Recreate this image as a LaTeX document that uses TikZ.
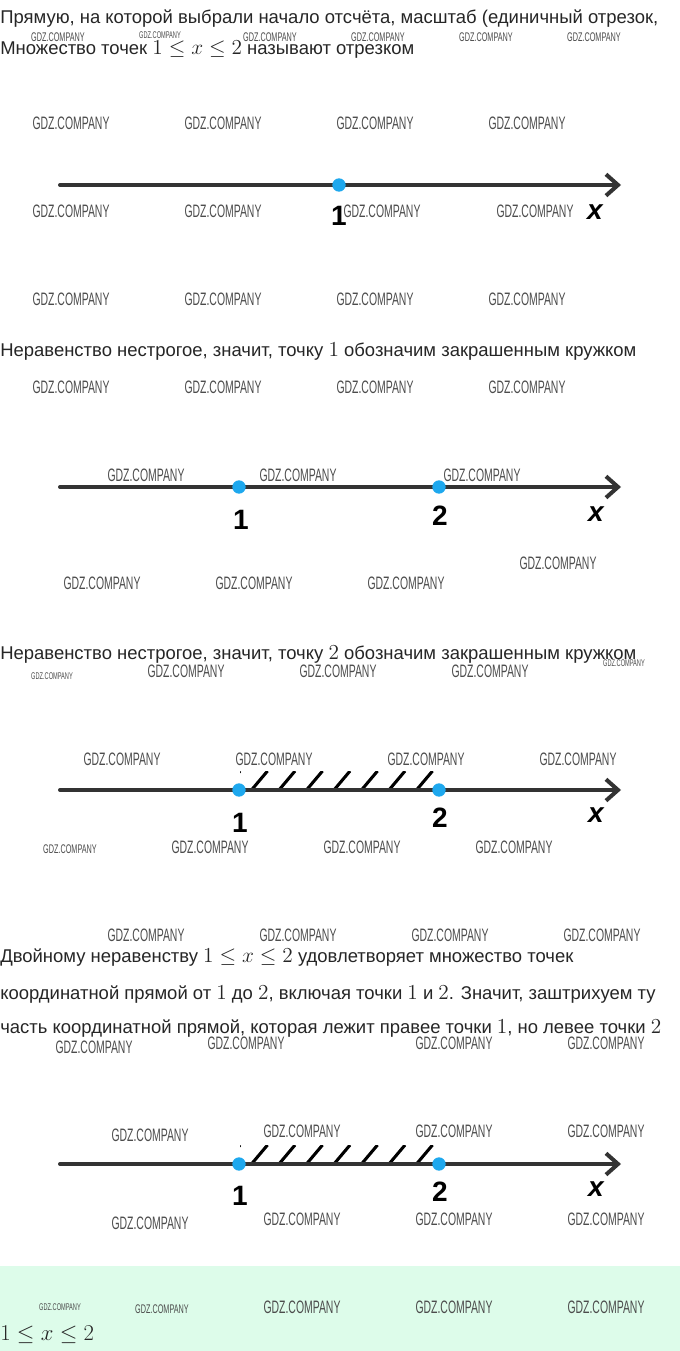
\documentclass[tikz,border=0pt]{standalone}
\usepackage{fix-cm}
\usepackage{fontspec}
\setmainfont{Liberation Sans}
\usepackage{xcolor}
\usepackage{tikz}
\usetikzlibrary{arrows.meta,positioning}
\definecolor{dotblue}{RGB}{30,168,238}
\definecolor{axisgray}{RGB}{51,51,51}
\definecolor{mint}{RGB}{221,252,234}
\newcommand{\wmark}{\scalebox{0.58}[1]{GDZ.COMPANY}}
\newcommand{\mth}[1]{{\fontsize{16}{18}\selectfont$#1$}}

\begin{document}
\begin{tikzpicture}[x=0.75pt, y=-0.75pt,
    axis/.style={line width=3pt, draw=axisgray, line cap=round, -{Straight Barb[length=9pt,width=16pt]}},
    dot/.style={circle, fill=dotblue, inner sep=0pt, minimum size=10pt},
    lab/.style={font=\fontsize{21}{24}\selectfont\bfseries, inner sep=0pt},
    txt/.style={anchor=base west, inner sep=0pt, font=\fontsize{13.85}{16}\selectfont, text=black!85},
    wm/.style={font=\fontsize{13.5}{16}\selectfont, text=black!70, inner sep=0pt},
    wmmid/.style={wm, font=\fontsize{9.4}{11}\selectfont},
    wmsmall/.style={wm, font=\fontsize{7.3}{9}\selectfont},
    hatch/.style={line width=2.3pt, line cap=butt}]
    \useasboundingbox (0,0) rectangle (680,1351);
    \fill[white] (0,0) rectangle (680,1351);
    \fill[mint] (0,1266) rectangle (680,1351);

    % watermarks
    \foreach \x/\y [count=\n] in {71/123,223/123,375/123,527/123,
        71/211,223/211,382/211,535/211, 71/299,223/299,375/299,527/299,
        71/387,223/387,375/387,527/387, 146/475,298/475,482/475, 558/563,
        102/583,254/583,406/583, 186/671,338/671,490/671,
        122/759,274/759,426/759,578/759, 210/847,362/847,514/847,
        146/935,298/935,450/935,602/935, 94/1047,246/1043,454/1043,606/1043,
        150/1135,302/1131,454/1131,606/1131, 150/1223,302/1219,454/1219,606/1219,
        302/1307,454/1307,606/1307}
        \node[wm] (wm\n) at (\x,\y) {\wmark};
    \foreach \x/\y [count=\n] in {58/37,270/37,378/37,486/37,594/37,70/849,162/1309}
        \node[wmmid] (wmm\n) at (\x,\y) {\wmark};
    \foreach \x/\y [count=\n] in {160/35,624/663,52/676,60/1307}
        \node[wmsmall] (wms\n) at (\x,\y) {\wmark};

    % texts
    \node[txt] (t1) at (0,24) {Прямую, на которой выбрали начало отсчёта, масштаб (единичный отрезок,};
    \node[txt] (t2) at (0,55) {Множество точек \mth{1\le x\le 2} называют отрезком};
    \node[txt] (t3) at (0,357) {Неравенство нестрогое, значит, точку \mth{1} обозначим закрашенным кружком};
    \node[txt] (t4) at (0,659) {Неравенство нестрогое, значит, точку \mth{2} обозначим закрашенным кружком};
    \node[txt] (t5) at (0,962) {Двойному неравенству \mth{1\le x\le 2} удовлетворяет множество точек};
    \node[txt] (t6) at (0,999) {координатной прямой от \mth{1} до \mth{2}, включая точки \mth{1} и \mth{2}. Значит, заштрихуем ту};
    \node[txt] (t7) at (0,1033) {часть координатной прямой, которая лежит правее точки \mth{1}, но левее точки \mth{2}};
    \node[txt, font=\fontsize{17}{20}\selectfont] (t8) at (0,1340) {$1\le x\le 2$};

    % line 1
    \coordinate (s1) at (60,185);
    \coordinate (e1) at (621,185);
    \draw[axis] (s1) -- (e1);
    \node[dot] (p11) at (339,185) {};
    \node[lab] (n11) at (339,216) {1};
    \node[lab] (x1) at (595,212) {\itshape x};

    % line 2
    \coordinate (s2) at (60,487);
    \coordinate (e2) at (621,487);
    \draw[axis] (s2) -- (e2);
    \node[dot] (p21) at (239,487) {};
    \node[dot] (p22) at (439,487) {};
    \node[lab] (n21) at (241,520) {1};
    \node[lab] (n22) at (440,516) {2};
    \node[lab] (x2) at (596,514) {\itshape x};

    % line 3
    \coordinate (s3) at (60,790);
    \coordinate (e3) at (621,790);
    \begin{scope}
        \clip (240,771) rectangle (437,790);
        \foreach \i in {0,...,8}
            \draw[hatch] (224+27.5*\i,790) -- ++(16,-19);
    \end{scope}
    \draw[axis] (s3) -- (e3);
    \node[dot] (p31) at (239,790) {};
    \node[dot] (p32) at (439,790) {};
    \node[lab] (n31) at (240,823) {1};
    \node[lab] (n32) at (440,818) {2};
    \node[lab] (x3) at (596,815) {\itshape x};

    % line 4
    \coordinate (s4) at (60,1164);
    \coordinate (e4) at (621,1164);
    \begin{scope}
        \clip (240,1145) rectangle (437,1164);
        \foreach \i in {0,...,8}
            \draw[hatch] (224+27.5*\i,1164) -- ++(16,-19);
    \end{scope}
    \draw[axis] (s4) -- (e4);
    \node[dot] (p41) at (239,1164) {};
    \node[dot] (p42) at (439,1164) {};
    \node[lab] (n41) at (240,1196) {1};
    \node[lab] (n42) at (440,1192) {2};
    \node[lab] (x4) at (596,1189) {\itshape x};
\end{tikzpicture}
\end{document}
